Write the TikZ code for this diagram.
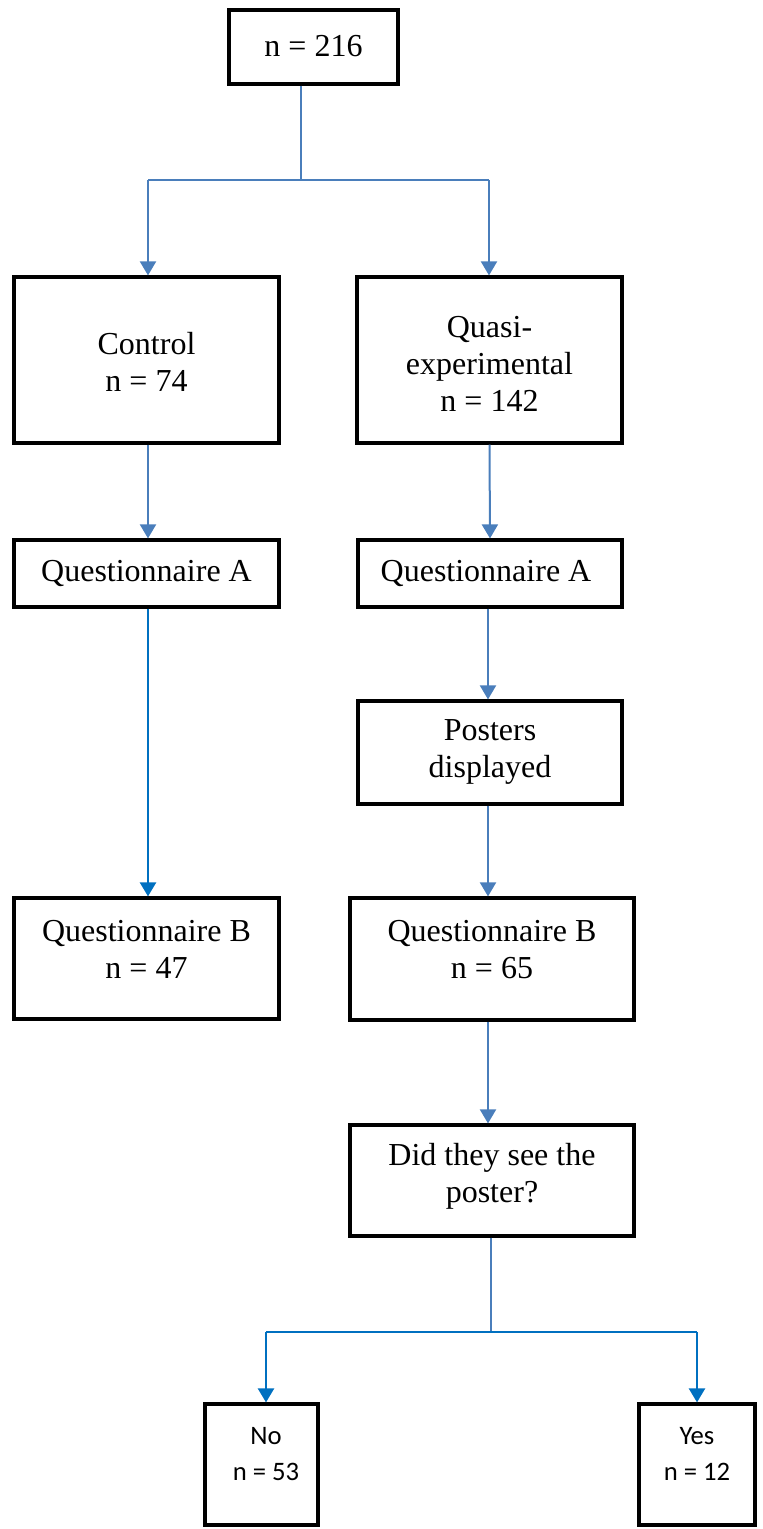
\documentclass[tikz,border=0pt]{standalone}
\usepackage{fontspec}
\setmainfont{Liberation Serif}
\newfontfamily\calibfont{Carlito}
\usetikzlibrary{arrows.meta,calc}
\definecolor{steel}{HTML}{4A7EBB}
\definecolor{brightblue}{HTML}{0070C0}
\begin{document}
\begin{tikzpicture}[x=0.75pt,y=-0.75pt,
  box/.style={draw=black,line width=2.4pt,inner sep=0pt,fill=white},
  txt/.style={align=center,inner sep=0pt,font=\fontsize{24}{27.75}\selectfont},
  stxt/.style={align=center,inner sep=0pt,font=\calibfont\fontsize{20}{27}\selectfont},
  link/.style={draw=steel,line width=1.5pt},
  blink/.style={draw=brightblue,line width=1.7pt},
  tip/.style={-{Triangle[width=12pt,length=10.5pt]}}]
\useasboundingbox (0,0) rectangle (763,1529);

% boxes
\node[box,minimum width=169*0.75pt,minimum height=74*0.75pt] (top) at (313.5,47) {};
\node[box,minimum width=265*0.75pt,minimum height=166*0.75pt] (ctrl) at (146.5,360) {};
\node[box,minimum width=265*0.75pt,minimum height=166*0.75pt] (quasi) at (489.5,360) {};
\node[box,minimum width=265*0.75pt,minimum height=67*0.75pt] (qal) at (146.5,573.5) {};
\node[box,minimum width=264*0.75pt,minimum height=67*0.75pt] (qar) at (490,573.5) {};
\node[box,minimum width=264*0.75pt,minimum height=103*0.75pt] (post) at (490,752.5) {};
\node[box,minimum width=265*0.75pt,minimum height=121*0.75pt] (qbl) at (146.5,958.5) {};
\node[box,minimum width=284*0.75pt,minimum height=122*0.75pt] (qbr) at (492,959) {};
\node[box,minimum width=284*0.75pt,minimum height=111*0.75pt] (did) at (492,1180.5) {};
\node[box,minimum width=113*0.75pt,minimum height=121*0.75pt] (no) at (261.5,1464.5) {};
\node[box,minimum width=116*0.75pt,minimum height=121*0.75pt] (yes) at (697,1464.5) {};

% texts
\node[txt] (ttop) at (313.5,46) {n = 216};
\node[txt] (tctrl) at (146.5,362) {Control\\n = 74};
\node[txt] (tquasi) at (489.5,364) {Quasi-\\experimental\\n = 142};
\node[txt] (tqal) at (146.5,573) {Questionnaire A};
\node[txt] (tqar) at (486,573) {Questionnaire A};
\node[txt] (tpost) at (490,752) {Posters\\displayed};
\node[txt] (tqbl) at (146.5,949) {Questionnaire B\\n = 47};
\node[txt] (tqbr) at (492,950) {Questionnaire B\\n = 65};
\node[txt] (tdid) at (492,1176) {Did they see the\\poster?};
\node[stxt] (tno) at (266,1454) {No\\n = 53};
\node[stxt] (tyes) at (697,1454) {Yes\\n = 12};

% junction points
\coordinate (j1) at (301,180);
\coordinate (jl) at (148,180);
\coordinate (jr) at (489,180);
\coordinate (j2) at (491,1332);
\coordinate (jn) at (266,1332);
\coordinate (jy) at (697,1332);

% connectors
\draw[link,line width=1.2pt] (top.south -| j1) -- (j1);
\draw[link] (jl) -- (jr);
\draw[link,tip] (jl) -- (jl |- ctrl.north);
\draw[link,tip] (jr) -- (jr |- quasi.north);
\draw[link,tip] (ctrl.south -| jl) -- (qal.north -| jl);
\draw[link,tip] (quasi.south) -- (qar.north);
\draw[blink,tip] (qal.south -| jl) -- (qbl.north -| jl);
\draw[link,tip] ($(qar.south)+(-2,0)$) -- ($(post.north)+(-2,0)$);
\draw[link,tip] ($(post.south)+(-2,0)$) -- ($(post.south |- qbr.north)+(-2,0)$);
\draw[link,tip] ($(qbr.south)+(-4,0)$) -- ($(did.north)+(-4,0)$);
\draw[link] (did.south -| j2) -- (j2);
\draw[blink] (jn) -- (jy);
\draw[blink,tip] (jn) -- (jn |- no.north);
\draw[blink,tip] (jy) -- (jy |- yes.north);
\end{tikzpicture}
\end{document}
